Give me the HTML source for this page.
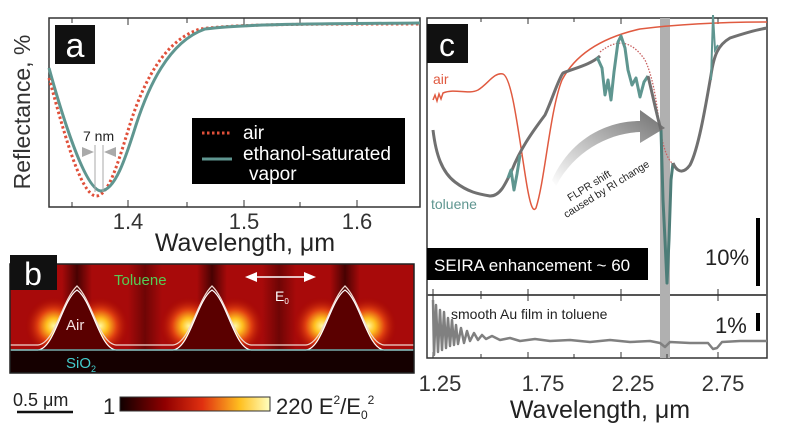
<!DOCTYPE html>
<html><head><meta charset="utf-8"><style>
html,body{margin:0;padding:0;background:#fff;}
svg{display:block;font-family:"Liberation Sans",Arial,sans-serif;}
</style></head><body>
<svg width="800" height="433" viewBox="0 0 800 433" xmlns="http://www.w3.org/2000/svg">
<defs>
<radialGradient id="hot" cx="50%" cy="50%" r="50%">
<stop offset="0" stop-color="#fff8a0"/><stop offset="0.25" stop-color="#ffc020"/><stop offset="0.55" stop-color="#e04010"/><stop offset="1" stop-color="#a00000" stop-opacity="0"/>
</radialGradient>
<linearGradient id="cbar" x1="0" x2="1">
<stop offset="0" stop-color="#100000"/><stop offset="0.3" stop-color="#900000"/><stop offset="0.55" stop-color="#e03010"/><stop offset="0.8" stop-color="#ffc020"/><stop offset="1" stop-color="#ffffc0"/>
</linearGradient>
<linearGradient id="arr" x1="0" y1="1" x2="1" y2="0">
<stop offset="0" stop-color="#fff"/><stop offset="1" stop-color="#555"/>
</linearGradient>
<linearGradient id="col" x1="0" x2="1">
<stop offset="0" stop-color="#300000" stop-opacity="0"/><stop offset="0.5" stop-color="#300000" stop-opacity="0.8"/><stop offset="1" stop-color="#300000" stop-opacity="0"/>
</linearGradient>
</defs>

<!-- Panel a -->
<rect x="49" y="18" width="371" height="189" fill="#fff" stroke="#333" stroke-width="1.5"/>
<g stroke="#333" stroke-width="1">
<line x1="72" y1="207" x2="72" y2="202"/><line x1="128" y1="207" x2="128" y2="200"/><line x1="187" y1="207" x2="187" y2="202"/><line x1="244" y1="207" x2="244" y2="200"/><line x1="300" y1="207" x2="300" y2="202"/><line x1="357" y1="207" x2="357" y2="200"/>
<line x1="72" y1="18" x2="72" y2="23"/><line x1="128" y1="18" x2="128" y2="25"/><line x1="187" y1="18" x2="187" y2="23"/><line x1="244" y1="18" x2="244" y2="25"/><line x1="300" y1="18" x2="300" y2="23"/><line x1="357" y1="18" x2="357" y2="25"/>
</g>
<path fill="none" stroke="#e0503a" stroke-width="3" stroke-dasharray="2.5,2.5" d="M49,78 C62,125 80,195 96,196 C110,196 120,155 132,118 C145,80 165,40 200,29 C240,24 300,24 420,24"/>
<path fill="none" stroke="#5f9690" stroke-width="3" d="M49,68 C62,115 85,190 101,191 C115,190 125,160 136,125 C148,88 168,42 205,29 C245,24 300,24 420,23"/>
<line x1="95" y1="145" x2="95" y2="192" stroke="#aaa" stroke-width="1"/>
<line x1="103" y1="145" x2="103" y2="192" stroke="#aaa" stroke-width="1"/>
<polygon points="82,147 94,152 82,157" fill="#aaa"/><polygon points="116,147 104,152 116,157" fill="#aaa"/>
<text x="83" y="141" font-size="14" fill="#222">7 nm</text>
<rect x="55" y="25" width="40" height="39" fill="#111"/>
<text x="75" y="57" font-size="34" fill="#fff" text-anchor="middle">a</text>
<rect x="192" y="118" width="213" height="66" fill="#000"/>
<line x1="202" y1="133" x2="232" y2="133" stroke="#e0503a" stroke-width="3" stroke-dasharray="2.5,2.5"/>
<line x1="202" y1="159" x2="232" y2="159" stroke="#5f9690" stroke-width="3"/>
<text x="243" y="139" font-size="19" fill="#fff">air</text>
<text x="243" y="160" font-size="19" fill="#fff">ethanol-saturated</text>
<text x="249" y="180" font-size="19" fill="#fff">vapor</text>
<text transform="translate(30,112) rotate(-90)" font-size="23" fill="#333" text-anchor="middle">Reflectance, %</text>
<text x="128" y="229" font-size="22" fill="#333" text-anchor="middle">1.4</text>
<text x="244" y="229" font-size="22" fill="#333" text-anchor="middle">1.5</text>
<text x="357" y="229" font-size="22" fill="#333" text-anchor="middle">1.6</text>
<text x="245" y="251" font-size="25" fill="#222" text-anchor="middle">Wavelength, μm</text>

<!-- Panel b -->
<rect x="10" y="264" width="404" height="109" fill="#2a0000"/>
<rect x="10" y="264" width="404" height="86" fill="#a80a0a"/>
<g>
<rect x="62" y="264" width="30" height="86" fill="url(#col)"/>
<rect x="197" y="264" width="30" height="86" fill="url(#col)"/>
<rect x="330" y="264" width="30" height="86" fill="url(#col)"/>
<rect x="128" y="264" width="34" height="86" fill="url(#col)" opacity="0.6"/>
<rect x="262" y="264" width="34" height="86" fill="url(#col)" opacity="0.6"/>
</g>
<g>
<ellipse cx="54" cy="326" rx="30" ry="30" fill="url(#hot)"/><ellipse cx="100" cy="326" rx="30" ry="30" fill="url(#hot)"/>
<ellipse cx="189" cy="326" rx="30" ry="30" fill="url(#hot)"/><ellipse cx="235" cy="326" rx="30" ry="30" fill="url(#hot)"/>
<ellipse cx="322" cy="326" rx="30" ry="30" fill="url(#hot)"/><ellipse cx="368" cy="326" rx="30" ry="30" fill="url(#hot)"/>
</g>
<path d="M10,350 L38,350 C55,348 62,300 77,290 C92,300 99,348 116,350 L173,350 C190,348 197,300 212,290 C227,300 234,348 251,350 L306,350 C323,348 330,300 345,290 C360,300 367,348 384,350 L414,350 L414,373 L10,373Z" fill="#5a0000"/>
<rect x="10" y="351" width="404" height="22" fill="#150000"/>
<path d="M10,345 L38,345 C55,343 62,300 77,286 C92,300 99,343 116,345 L173,345 C190,343 197,300 212,286 C227,300 234,343 251,345 L306,345 C323,343 330,300 345,286 C360,300 367,343 384,345 L414,345" fill="none" stroke="#f0d8d0" stroke-width="1.2"/>
<path d="M10,350 L38,350 C55,348 62,300 77,290 C92,300 99,348 116,350 L173,350 C190,348 197,300 212,290 C227,300 234,348 251,350 L306,350 C323,348 330,300 345,290 C360,300 367,348 384,350 L414,350" fill="none" stroke="#fff" stroke-width="1.2"/>
<line x1="10" y1="350" x2="414" y2="350" stroke="#6cc" stroke-width="1.2"/>
<rect x="10" y="264" width="404" height="109" fill="none" stroke="#222" stroke-width="1.5"/>
<rect x="10" y="255" width="47" height="35" fill="#111"/>
<text x="33" y="285" font-size="32" fill="#fff" text-anchor="middle">b</text>
<text x="114" y="285" font-size="15" fill="#5c5">Toluene</text>
<text x="66" y="330" font-size="15" fill="#f4e0e0">Air</text>
<text x="66" y="368" font-size="15" fill="#4cc">SiO<tspan font-size="9" dy="4">2</tspan></text>
<line x1="254" y1="277" x2="306" y2="277" stroke="#fff" stroke-width="1.5"/>
<polygon points="245,277 257,272 257,282" fill="#fff"/><polygon points="316,277 304,272 304,282" fill="#fff"/>
<text x="275" y="301" font-size="14" fill="#fff">E<tspan font-size="8" dy="3">0</tspan></text>
<text x="13" y="406" font-size="18" fill="#222">0.5 μm</text>
<line x1="17" y1="412" x2="73" y2="412" stroke="#111" stroke-width="2.5"/>
<text x="103" y="414" font-size="22" fill="#222">1</text>
<rect x="120" y="397" width="150" height="14" fill="url(#cbar)" stroke="#333" stroke-width="1"/>
<text x="276" y="414" font-size="22" fill="#222">220 E<tspan font-size="12" dy="-10">2</tspan><tspan dy="10">/E</tspan><tspan font-size="12" dy="5">0</tspan><tspan font-size="12" dy="-15">2</tspan></text>

<!-- Panel c -->
<rect x="427" y="18" width="340" height="340" fill="#fff" stroke="#333" stroke-width="1.5"/>
<line x1="427" y1="295" x2="767" y2="295" stroke="#555" stroke-width="2"/>
<rect x="660" y="18" width="10" height="340" fill="#b0b0b0"/>
<g stroke="#333" stroke-width="1">
<line x1="433" y1="358" x2="433" y2="352"/><line x1="481" y1="358" x2="481" y2="354"/><line x1="528" y1="358" x2="528" y2="352"/><line x1="574" y1="358" x2="574" y2="354"/><line x1="621" y1="358" x2="621" y2="352"/><line x1="667" y1="358" x2="667" y2="354"/><line x1="718" y1="358" x2="718" y2="352"/>
<line x1="433" y1="295" x2="433" y2="301"/><line x1="481" y1="295" x2="481" y2="299"/><line x1="528" y1="295" x2="528" y2="301"/><line x1="574" y1="295" x2="574" y2="299"/><line x1="621" y1="295" x2="621" y2="301"/><line x1="718" y1="295" x2="718" y2="301"/>
<line x1="433" y1="295" x2="433" y2="289"/><line x1="481" y1="295" x2="481" y2="291"/><line x1="528" y1="295" x2="528" y2="289"/><line x1="621" y1="295" x2="621" y2="289"/><line x1="718" y1="295" x2="718" y2="289"/>
<line x1="481" y1="18" x2="481" y2="22"/><line x1="528" y1="18" x2="528" y2="24"/><line x1="574" y1="18" x2="574" y2="22"/><line x1="621" y1="18" x2="621" y2="24"/><line x1="718" y1="18" x2="718" y2="24"/>
</g>
<!-- air -->
<path d="M433,100 L435,95 L437,101 L439,94 L441,99 L443,93 C455,88 468,95 478,90 C488,84 494,72 503,74 C512,78 518,130 526,180 C530,205 533,213 536,208 C545,180 550,110 562,80 C575,55 600,38 640,29 C680,24 720,22 767,22" fill="none" stroke="#e05a40" stroke-width="1.5"/>
<!-- dotted -->
<path d="M600,52 C615,40 630,38 645,60 C652,75 656,95 660,130 C664,150 668,162 675,165" fill="none" stroke="#c86060" stroke-width="1.3" stroke-dasharray="1.5,1.5"/>
<!-- toluene gray -->
<path d="M433,130 C436,155 442,172 455,182 C468,192 478,194 490,196 C500,196 505,185 512,170 C520,150 530,135 545,115 C552,100 558,80 563,73 C575,68 590,65 600,56" fill="none" stroke="#707070" stroke-width="3" stroke-linejoin="round"/>
<path d="M508,178 L511,170 L514,190 L517,174 L520,155" fill="none" stroke="#5f9690" stroke-width="3" stroke-linejoin="round"/>
<path d="M597,57 L602,68 L605,95 L608,80 L611,100 L614,72 L618,42 L621,36 L625,48 L628,70 L632,85 L636,78 L640,97 L644,82 L648,76" fill="none" stroke="#5f9690" stroke-width="3" stroke-linejoin="round"/>
<path d="M648,76 C652,92 656,112 661,130" fill="none" stroke="#707070" stroke-width="3"/>
<path d="M661,130 L663,200 L665,240 L667,283 L669,240 L671,180 L673,163" fill="none" stroke="#4d7d78" stroke-width="3" stroke-linejoin="round"/>
<path d="M673,163 C676,170 682,176 690,165 C698,150 705,110 711,75 C714,55 718,45 730,38 C745,33 755,30 767,28" fill="none" stroke="#707070" stroke-width="3" stroke-linejoin="round"/>
<path d="M711,80 L713,15 L715,50 L718,45" fill="none" stroke="#5f9690" stroke-width="2"/>
<!-- arrow -->
<path d="M556,186 C575,150 610,133 640,132 L640,143 L665,128 L640,110 L640,121 C605,121 570,140 552,180 Z" fill="url(#arr)" opacity="0.85"/>
<text transform="translate(560,208) rotate(-32)" font-size="10.5" fill="#222"><tspan x="12" dy="0">FLPR shift</tspan><tspan x="0" dy="12">caused by RI change</tspan></text>
<rect x="427" y="24" width="41" height="39" fill="#111"/>
<text x="447" y="56" font-size="32" fill="#fff" text-anchor="middle">c</text>
<text x="433" y="84" font-size="14" fill="#e05a40">air</text>
<text x="431" y="209" font-size="14" fill="#5f9690">toluene</text>
<rect x="427" y="248" width="221" height="32" fill="#000"/>
<text x="434" y="271" font-size="17" fill="#fff">SEIRA enhancement ~ 60</text>
<text x="705" y="265" font-size="22" fill="#222">10%</text>
<rect x="756" y="218" width="4" height="68" fill="#000"/>
<!-- bottom panel -->
<path d="M433,300 L434,355 L436,305 L438,352 L440,310 L442,350 L444,312 L446,348 L448,318 L450,346 L452,320 L454,345 L456,325 L458,344 L461,328 L464,343 L467,331 L470,341 L474,333 L478,340 L482,335 L486,339 L492,336 L500,340 L510,338 L520,341 L535,339 L550,341 L570,340 L590,342 L610,340 L630,342 L650,341 L660,343 L665,347 L670,342 L690,343 L708,343 L713,349 L717,348 L722,342 L740,341 L767,341" fill="none" stroke="#808080" stroke-width="2.5" stroke-linejoin="round"/>
<text x="451" y="319" font-size="14" fill="#222">smooth Au film in toluene</text>
<text x="715" y="333" font-size="22" fill="#222">1%</text>
<rect x="756" y="313" width="4" height="18" fill="#000"/>
<text x="440" y="391" font-size="22" fill="#333" text-anchor="middle">1.25</text>
<text x="543" y="391" font-size="22" fill="#333" text-anchor="middle">1.75</text>
<text x="633" y="391" font-size="22" fill="#333" text-anchor="middle">2.25</text>
<text x="723" y="391" font-size="22" fill="#333" text-anchor="middle">2.75</text>
<text x="600" y="418" font-size="25" fill="#222" text-anchor="middle">Wavelength, μm</text>
</svg>
</body></html>
